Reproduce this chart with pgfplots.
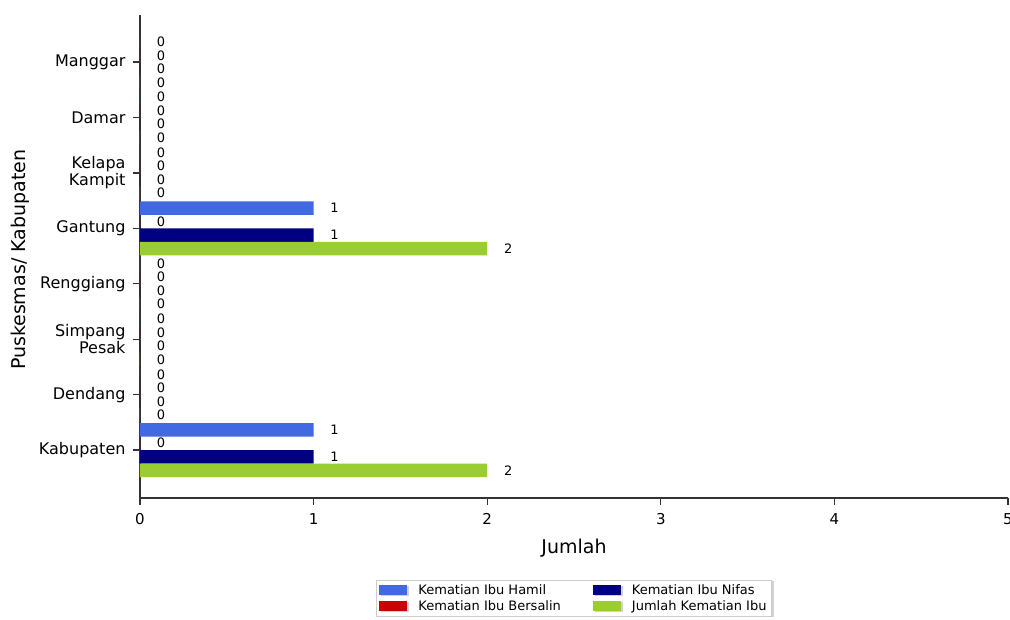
\documentclass[border=0pt]{standalone}
\usepackage{fontspec}
\setmainfont{DejaVu Sans}
\usepackage{pgfplots}
\pgfplotsset{compat=1.18}
\usetikzlibrary{shadows}
\definecolor{chamil}{HTML}{4169E1}
\definecolor{cbersalin}{HTML}{CC0000}
\definecolor{cnifas}{HTML}{000080}
\definecolor{cjumlah}{HTML}{9ACD32}
\definecolor{axgray}{HTML}{333333}
\begin{document}
\begin{tikzpicture}
\begin{axis}[
  scale only axis, width=868pt, height=483pt,
  xbar, bar width=13.5pt,
  xmin=0, xmax=5, ymin=-0.866, ymax=7.85,
  xtick={0,...,5}, ytick={0,...,7},
  yticklabels={Kabupaten,Dendang,{Simpang\\Pesak},Renggiang,Gantung,{Kelapa\\Kampit},Damar,Manggar},
  yticklabel style={align=right, font=\fontsize{16}{17}\selectfont, text=black, xshift=-4pt},
  xticklabel style={font=\fontsize{15}{15}\selectfont, text=black, yshift=-5pt},
  /pgf/number format/assume math mode=true,
  axis lines=left,
  x axis line style={-, line width=1.5pt, axgray},
  y axis line style={-, line width=1.5pt, axgray},
  tick style={line width=1.2pt, axgray},
  tick align=outside, major tick length=7pt,
  xlabel={Jumlah}, ylabel={Puskesmas/ Kabupaten},
  xlabel style={font=\fontsize{19}{19}\selectfont, at={(axis description cs:0.5,-0.104)}, anchor=center},
  ylabel style={font=\fontsize{19}{19}\selectfont, at={(axis description cs:-0.138,0.493)}, anchor=center, rotate=0},
  nodes near coords,
  every node near coord/.append style={anchor=center, xshift=21pt, fill=white, inner sep=1pt, font=\fontsize{13}{13}\selectfont, text=black},
  legend columns=2, transpose legend,
  legend cell align=left,
  legend style={at={(0.5,-0.17)}, anchor=north, draw=gray!40, fill=white,
    font=\fontsize{13}{15}\selectfont, row sep=1pt,
    /tikz/every even column/.append style={column sep=30pt},
    drop shadow={shadow xshift=2pt, shadow yshift=-1pt, fill=gray!70}},
  legend image code/.code={\fill[#1] (0pt,-5pt) rectangle (28pt,5pt); \path (37pt,0pt);},
  clip=false,
]
\addplot[fill=chamil, draw=none, bar shift=20.25pt] coordinates {(0,7) (0,6) (0,5) (1,4) (0,3) (0,2) (0,1) (1,0)};
\addplot[fill=cbersalin, draw=none, bar shift=6.75pt] coordinates {(0,7) (0,6) (0,5) (0,4) (0,3) (0,2) (0,1) (0,0)};
\addplot[fill=cnifas, draw=none, bar shift=-6.75pt] coordinates {(0,7) (0,6) (0,5) (1,4) (0,3) (0,2) (0,1) (1,0)};
\addplot[fill=cjumlah, draw=none, bar shift=-20.25pt] coordinates {(0,7) (0,6) (0,5) (2,4) (0,3) (0,2) (0,1) (2,0)};
\legend{Kematian Ibu Hamil, Kematian Ibu Bersalin, Kematian Ibu Nifas, Jumlah Kematian Ibu}
\end{axis}
\pgfresetboundingbox
\path (-140pt,-122pt) rectangle (870pt,498pt);
\end{tikzpicture}
\end{document}
